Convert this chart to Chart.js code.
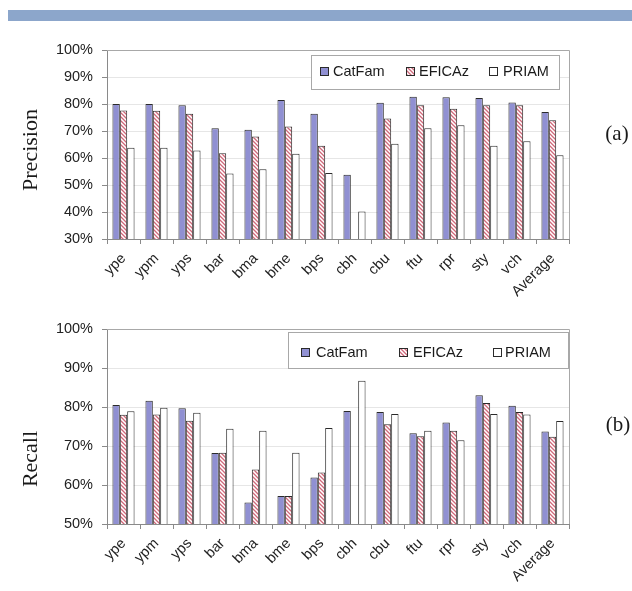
<!DOCTYPE html>
<html>
<head>
<meta charset="utf-8">
<script src="https://cdn.jsdelivr.net/npm/chart.js@4.4.0/dist/chart.umd.min.js"></script>
<style>
  html, body { margin: 0; padding: 0; background: #fff; width: 632px; height: 591px; overflow: hidden; }
  #band { position: absolute; left: 8px; top: 10px; width: 624px; height: 11px; background: #8ca6cb; }
  canvas { position: absolute; left: 0; }
</style>
</head>
<body>
<div id="band"></div>
<canvas id="precisionChart" width="632" height="300" style="top:0px"></canvas>
<canvas id="recallChart" width="632" height="291" style="top:300px"></canvas>
<script>
// Organisms (plus the overall average) along the x axis
const categories = ['ype', 'ypm', 'yps', 'bar', 'bma', 'bme', 'bps', 'cbh', 'cbu', 'ftu', 'rpr', 'sty', 'vch', 'Average'];
const seriesNames = ['CatFam', 'EFICAz', 'PRIAM'];

// Precision (%)
const precisionCatFam = [80, 80, 79.5, 71, 70.5, 81.5, 76.4, 53.8, 80.5, 82.7, 82.5, 82.2, 80.6, 77];
const precisionEFICAz = [77.6, 77.5, 76.4, 61.8, 68, 71.7, 64.5, null, 74.6, 79.5, 78.2, 79.5, 79.5, 74];
const precisionPRIAM  = [63.8, 63.8, 62.8, 54.3, 55.8, 61.6, 54.4, 40.2, 65.3, 71, 72.1, 64.5, 66.2, 61];

// Recall (%)
const recallCatFam = [80.5, 81.6, 79.7, 68.2, 55.5, 57.2, 61.9, 79, 78.7, 73.3, 76, 83, 80.3, 73.7];
const recallEFICAz = [78, 78.1, 76.5, 68.3, 64, 57.2, 63.2, null, 75.6, 72.5, 73.9, 81, 78.7, 72.4];
const recallPRIAM  = [78.9, 79.8, 78.5, 74.4, 73.9, 68.3, 74.6, 86.7, 78.2, 73.9, 71.5, 78.2, 78.1, 76.4];

const SANS = '"Liberation Sans", Arial, sans-serif';
const SERIF = '"Liberation Serif", "Times New Roman", serif';
const CATFAM_FILL = '#9090d2';
const OUTLINE = '#2a2a2a';

// Diagonal red hatching used for EFICAz
function makeHatch() {
  const c = document.createElement('canvas');
  c.width = 4; c.height = 4;
  const g = c.getContext('2d');
  g.fillStyle = '#ffffff';
  g.fillRect(0, 0, 4, 4);
  g.strokeStyle = '#d0687a';
  g.lineWidth = 1.3;
  g.beginPath();
  g.moveTo(-1, -1); g.lineTo(5, 5);
  g.moveTo(-1, 3); g.lineTo(1, 5);
  g.moveTo(3, -1); g.lineTo(5, 1);
  g.stroke();
  return g.createPattern(c, 'repeat');
}
const HATCH = makeHatch();
const FILLS = [CATFAM_FILL, HATCH, '#ffffff'];

// Grey frame on the top and right of the plot area
const framePlugin = {
  id: 'frame',
  beforeDatasetsDraw(chart) {
    const { ctx, chartArea: a } = chart;
    ctx.save();
    ctx.strokeStyle = '#a8a8a8';
    ctx.lineWidth = 1;
    ctx.beginPath();
    ctx.moveTo(a.left, a.top + 0.5);
    ctx.lineTo(a.right + 0.5, a.top + 0.5);
    ctx.lineTo(a.right + 0.5, a.bottom);
    ctx.stroke();
    ctx.restore();
  }
};

// Boxed legend inside the plot area, plus the axis title and panel tag
const decorPlugin = {
  id: 'decor',
  afterDraw(chart, args, o) {
    const ctx = chart.ctx;
    ctx.save();
    // legend box
    const b = o.box;
    ctx.fillStyle = '#ffffff';
    ctx.fillRect(b.x, b.y, b.w, b.h);
    ctx.strokeStyle = '#a8a8a8';
    ctx.lineWidth = 1;
    ctx.strokeRect(b.x + 0.5, b.y + 0.5, b.w, b.h);
    ctx.font = '14.5px ' + SANS;
    ctx.textBaseline = 'middle';
    ctx.textAlign = 'left';
    o.items.forEach((it, i) => {
      ctx.fillStyle = FILLS[i];
      ctx.fillRect(it.sx, o.sy, 9, 9);
      ctx.strokeStyle = OUTLINE;
      ctx.strokeRect(it.sx + 0.5, o.sy + 0.5, 8, 8);
      ctx.fillStyle = '#1a1a1a';
      ctx.fillText(seriesNames[i], it.tx, o.sy + 5);
    });
    // axis title
    ctx.font = '22px ' + SERIF;
    ctx.fillStyle = '#1a1a1a';
    ctx.textAlign = 'center';
    ctx.translate(o.titleX, o.titleY);
    ctx.rotate(-Math.PI / 2);
    ctx.fillText(o.title, 0, 0);
    ctx.setTransform(1, 0, 0, 1, 0, 0);
    // panel tag
    ctx.font = '21px ' + SERIF;
    ctx.fillText(o.tag, o.tagX, o.tagY);
    ctx.restore();
  }
};

function makeChart(id, values, yMin, padTop, xHeight, decor) {
  const datasets = values.map((v, i) => ({
    label: seriesNames[i],
    data: v,
    backgroundColor: FILLS[i],
    borderColor: OUTLINE,
    borderWidth: 1,
    categoryPercentage: 0.67,
    barPercentage: 1.0
  }));
  return new Chart(document.getElementById(id), {
    type: 'bar',
    data: { labels: categories, datasets },
    plugins: [framePlugin, decorPlugin],
    options: {
      responsive: false,
      animation: false,
      devicePixelRatio: 1,
      layout: { padding: { top: padTop, right: 63, left: 0, bottom: 0 } },
      plugins: {
        legend: { display: false },
        tooltip: { enabled: false },
        decor
      },
      scales: {
        x: {
          offset: true,
          afterFit(s) { s.height = xHeight; },
          grid: { display: true, drawOnChartArea: false, offset: true, color: '#8a8a8a', tickLength: 5 },
          border: { display: true, color: '#8a8a8a' },
          ticks: {
            autoSkip: false, minRotation: 45, maxRotation: 45, padding: 6,
            color: '#222', font: { family: SANS, size: 14.5 }
          }
        },
        y: {
          min: yMin, max: 100,
          afterFit(s) { s.width = 107; },
          grid: { color: '#e6e6e6', tickColor: '#8a8a8a', tickLength: 5 },
          border: { display: true, color: '#8a8a8a' },
          ticks: {
            stepSize: 10, padding: 9, color: '#222',
            font: { family: SANS, size: 14.5 },
            callback: v => v + '%'
          }
        }
      }
    }
  });
}

makeChart('precisionChart', [precisionCatFam, precisionEFICAz, precisionPRIAM], 30, 50, 61, {
  box: { x: 311, y: 55, w: 248, h: 34 },
  sy: 67,
  items: [{ sx: 320, tx: 333 }, { sx: 406, tx: 419 }, { sx: 489, tx: 503 }],
  title: 'Precision', titleX: 31, titleY: 150,
  tag: '(a)', tagX: 617, tagY: 134
});

makeChart('recallChart', [recallCatFam, recallEFICAz, recallPRIAM], 50, 29, 67, {
  box: { x: 288, y: 32, w: 280, h: 36 },
  sy: 48,
  items: [{ sx: 301, tx: 316 }, { sx: 399, tx: 413 }, { sx: 493, tx: 505 }],
  title: 'Recall', titleX: 31, titleY: 159,
  tag: '(b)', tagX: 618, tagY: 125
});
</script>
</body>
</html>
